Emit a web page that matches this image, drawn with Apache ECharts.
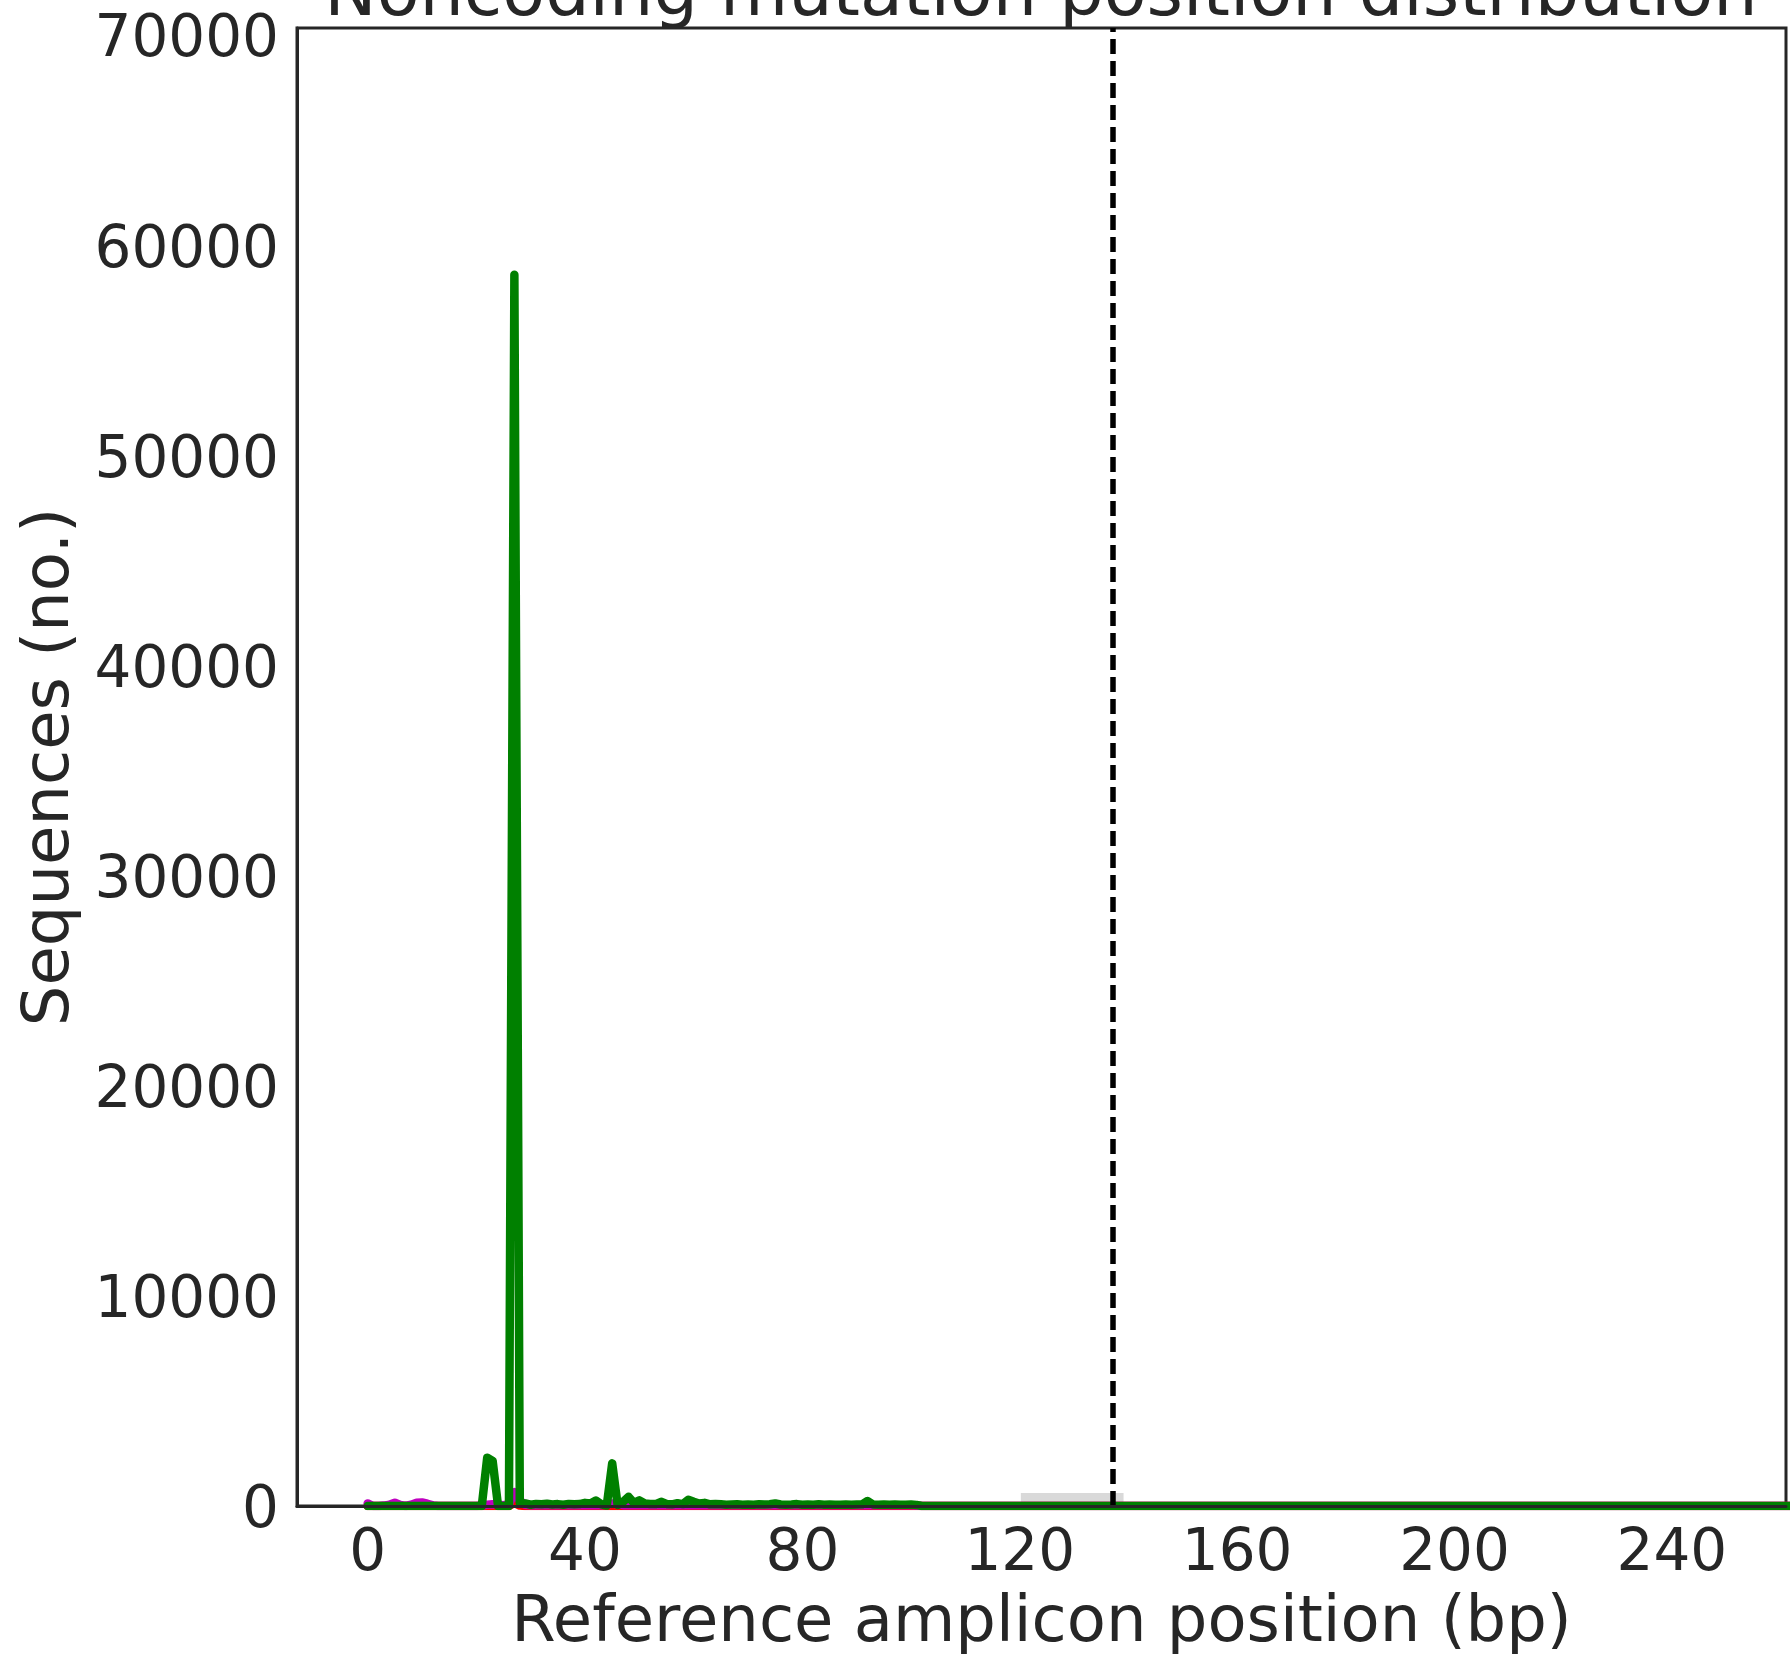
<!DOCTYPE html>
<html>
<head>
<meta charset="utf-8">
<script src="https://cdn.jsdelivr.net/npm/echarts@6/dist/echarts.min.js"></script>
<style>
html,body{margin:0;padding:0;background:#fff;}
#chart{width:1790px;height:1656px;}
</style>
</head>
<body>
<div id="chart"></div>
<script>
// ---- data ----
const titleText = 'Noncoding mutation position distribution';
const xAxisName = 'Reference amplicon position (bp)';
const yAxisName = 'Sequences (no.)';
const xTicks = [0, 40, 80, 120, 160, 200, 240];
const yTicks = [0, 10000, 20000, 30000, 40000, 50000, 60000, 70000];
const yMax = 70350;
const cutSite = 137.1;
const quantWindow = [120.2, 139.1];
const quantWindowHeight = 620;

// substitutions (green), positions 0..262
const substitutions = [
  0,0,0,0,0,0,0,0,0,0,
  0,0,0,0,0,0,0,0,0,0,
  0,0,2300,2150,0,0,0,58600,150,120,
  60,100,80,110,70,90,60,100,80,90,
  150,120,260,80,20,2030,50,200,440,150,
  270,120,100,90,200,100,80,130,90,300,
  200,120,150,80,100,80,60,70,80,60,
  70,60,80,70,80,120,70,60,70,90,
  60,70,60,80,60,70,60,60,70,60,
  70,80,240,70,60,70,60,70,60,60,
  70,50,0,0,0,0,0,0,0,0,
  0,0,0,0,0,0,0,0,0,0,
  0,0,0,0,0,0,0,0,0,0,
  0,0,0,0,0,0,0,0,0,0,
  0,0,0,0,0,0,0,0,0,0,
  0,0,0,0,0,0,0,0,0,0,
  0,0,0,0,0,0,0,0,0,0,
  0,0,0,0,0,0,0,0,0,0,
  0,0,0,0,0,0,0,0,0,0,
  0,0,0,0,0,0,0,0,0,0,
  0,0,0,0,0,0,0,0,0,0,
  0,0,0,0,0,0,0,0,0,0,
  0,0,0,0,0,0,0,0,0,0,
  0,0,0,0,0,0,0,0,0,0,
  0,0,0,0,0,0,0,0,0,0,
  0,0,0,0,0,0,0,0,0,0,
  0,0,0
];

// deletions (magenta)
const deletions = [
  120,0,0,20,60,160,50,0,60,150,
  170,110,30,0,0,0,0,0,0,0,
  0,20,60,80,60,40,80,660,250,60,
  40,40,40,40,40,40,40,40,40,40,
  40,40,40,40,60,120,80,40,40,40,
  30,30,30,30,30,30,30,30,30,30,
  30,30,30,30,30,30,30,30,30,30,
  30,30,30,30,30,30,30,30,30,30,
  30,30,30,30,30,30,30,30,30,30,
  30,30,30,30,30,30,30,30,30,30,
  30,20,0,0,0,0,0,0,0,0,
  0,0,0,0,0,0,0,0,0,0,
  0,0,0,0,0,0,0,0,0,0,
  0,0,0,0,0,0,0,0,0,0,
  0,0,0,0,0,0,0,0,0,0,
  0,0,0,0,0,0,0,0,0,0,
  0,0,0,0,0,0,0,0,0,0,
  0,0,0,0,0,0,0,0,0,0,
  0,0,0,0,0,0,0,0,0,0,
  0,0,0,0,0,0,0,0,0,0,
  0,0,0,0,0,0,0,0,0,0,
  0,0,0,0,0,0,0,0,0,0,
  0,0,0,0,0,0,0,0,0,0,
  0,0,0,0,0,0,0,0,0,0,
  0,0,0,0,0,0,0,0,0,0,
  0,0,0,0,0,0,0,0,0,0,
  0,0,0
];

// insertions (red)
const insertions = [
  0,0,0,0,0,0,0,0,0,0,
  0,0,0,0,0,0,0,0,0,0,
  0,0,0,0,0,0,0,150,20,0,
  0,0,0,0,0,0,0,0,0,0,
  0,0,0,0,0,0,0,0,0,0,
  0,0,0,0,0,0,0,0,0,0,
  0,0,0,0,0,0,0,0,0,0,
  0,0,0,0,0,0,0,0,0,0,
  0,0,0,0,0,0,0,0,0,0,
  0,0,0,0,0,0,0,0,0,0,
  0,0,0,0,0,0,0,0,0,0,
  0,0,0,0,0,0,0,0,0,0,
  0,0,0,0,0,0,0,0,0,0,
  0,0,0,0,0,0,0,0,0,0,
  0,0,0,0,0,0,0,0,0,0,
  0,0,0,0,0,0,0,0,0,0,
  0,0,0,0,0,0,0,0,0,0,
  0,0,0,0,0,0,0,0,0,0,
  0,0,0,0,0,0,0,0,0,0,
  0,0,0,0,0,0,0,0,0,0,
  0,0,0,0,0,0,0,0,0,0,
  0,0,0,0,0,0,0,0,0,0,
  0,0,0,0,0,0,0,0,0,0,
  0,0,0,0,0,0,0,0,0,0,
  0,0,0,0,0,0,0,0,0,0,
  0,0,0,0,0,0,0,0,0,0,
  0,0,0
];

const FONT = 'DejaVu Sans';
const TXT = '#262626';

const pairs = arr => arr.map((v, i) => [i, v]);

const chart = echarts.init(document.getElementById('chart'), null, {renderer: 'canvas'});

const lineBase = {
  type: 'line',
  showSymbol: false,
  symbol: 'none',
  clip: true,
  silent: true,
  animation: false
};

const LW = 8.5;

chart.setOption({
  animation: false,
  backgroundColor: '#ffffff',
  grid: {
    left: 297, top: 28, right: 4, bottom: 150,
    containLabel: false,
    outerBoundsMode: 'none',
    show: true, borderColor: TXT, borderWidth: 3, backgroundColor: '#ffffff'
  },
  graphic: [{
    type: 'text',
    x: 1041, y: -3,
    z: 100,
    style: {
      text: titleText,
      fill: TXT,
      font: '70px "' + FONT + '"',
      textAlign: 'center',
      textVerticalAlign: 'middle'
    }
  }],
  xAxis: {
    type: 'value',
    min: -13,
    max: 261,
    z: 10,
    name: xAxisName,
    nameLocation: 'middle',
    nameGap: 86,
    nameTextStyle: {fontSize: 64, fontFamily: FONT, color: TXT},
    axisLine: {show: true, onZero: false, lineStyle: {color: TXT, width: 3}},
    axisTick: {show: false},
    splitLine: {show: false},
    axisLabel: {
      customValues: xTicks,
      fontSize: 58, fontFamily: FONT, color: TXT, margin: 20,
      formatter: v => String(v)
    }
  },
  yAxis: {
    type: 'value',
    min: 0,
    max: yMax,
    z: 10,
    name: yAxisName,
    nameLocation: 'middle',
    nameRotate: 90,
    nameGap: 213,
    nameTextStyle: {fontSize: 64, fontFamily: FONT, color: TXT},
    axisLine: {show: true, onZero: false, lineStyle: {color: TXT, width: 3}},
    axisTick: {show: false},
    splitLine: {show: false},
    axisLabel: {
      customValues: yTicks,
      fontSize: 58, fontFamily: FONT, color: TXT, margin: 18,
      verticalAlign: 'top',
      lineHeight: 12,
      formatter: v => String(v)
    }
  },
  series: [
    Object.assign({}, lineBase, {
      name: 'window',
      data: [],
      z: 1,
      markArea: {
        silent: true,
        itemStyle: {color: '#d9d9d9', opacity: 1},
        data: [[{coord: [quantWindow[0], 0]}, {coord: [quantWindow[1], quantWindowHeight]}]]
      }
    }),
    Object.assign({}, lineBase, {
      name: 'Insertions',
      data: pairs(insertions),
      z: 2,
      lineStyle: {color: '#ff0000', width: LW, cap: 'round', join: 'round'}
    }),
    Object.assign({}, lineBase, {
      name: 'Deletions',
      data: pairs(deletions),
      z: 3,
      lineStyle: {color: '#bf00bf', width: LW, cap: 'round', join: 'round'}
    }),
    Object.assign({}, lineBase, {
      name: 'Substitutions',
      data: pairs(substitutions),
      z: 4,
      lineStyle: {color: '#008000', width: LW, cap: 'round', join: 'round'}
    }),
    Object.assign({}, lineBase, {
      name: 'cut',
      data: [],
      z: 20,
      markLine: {
        silent: true,
        symbol: ['none', 'none'],
        label: {show: false},
        lineStyle: {color: '#000000', width: 5.5, type: [15, 7]},
        data: [{xAxis: cutSite}]
      }
    })
  ]
});
</script>
</body>
</html>
